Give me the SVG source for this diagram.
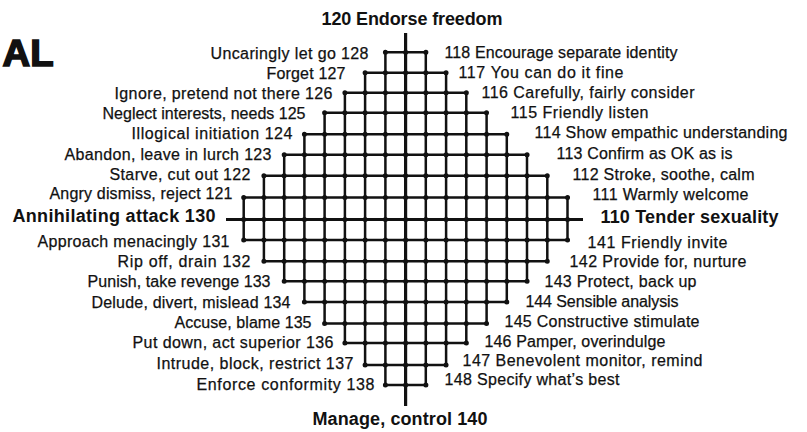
<svg xmlns="http://www.w3.org/2000/svg" width="807" height="432" viewBox="0 0 807 432">
<style>
text{font-family:"Liberation Sans",Arial,sans-serif;fill:#111}
.l{font-size:16px;stroke:#111;stroke-width:0.25}
.b{font-size:18px;font-weight:bold}
.t{font-size:37px;font-weight:bold;stroke:#111;stroke-width:1.6}
.g{stroke:#111;stroke-width:2.5;fill:none}
.a{stroke:#111;stroke-width:3.2;fill:none}
.d{stroke:#111;stroke-width:5;stroke-linecap:round;stroke-dasharray:0 20.24;fill:none}
</style>
<rect width="807" height="432" fill="#fff"/>
<g id="title"><text class="t" x="2.5" y="65.9" textLength="51" lengthAdjust="spacingAndGlyphs">AL</text></g>
<g id="connectors">
<path class="g" d="M385.4 52.2H425.8"/>
<path class="g" d="M365.1 72.8H446.1"/>
<path class="g" d="M344.9 92.8H466.3"/>
<path class="g" d="M324.6 112.8H486.6"/>
<path class="g" d="M304.4 134.2H506.8"/>
<path class="g" d="M284.2 154.8H527"/>
<path class="g" d="M263.9 175.8H547.3"/>
<path class="g" d="M243.7 197.5H567.5"/>
<path class="g" d="M243.7 240H567.5"/>
<path class="g" d="M263.9 261.3H547.3"/>
<path class="g" d="M284.2 281.3H527"/>
<path class="g" d="M304.4 302H506.8"/>
<path class="g" d="M324.6 323.5H486.6"/>
<path class="g" d="M344.9 343H466.3"/>
<path class="g" d="M365.1 365H446.1"/>
<path class="g" d="M385.4 385H425.8"/>
<path class="g" d="M243.7 197.5V240M263.9 175.8V261.3M284.2 154.8V281.3M304.4 134.2V302M324.6 112.8V323.5M344.9 92.8V343M365.1 72.8V365M385.4 52.2V385"/>
<path class="g" d="M425.8 52.2V385M446.1 72.8V365M466.3 92.8V343M486.6 112.8V323.5M506.8 134.2V302M527 154.8V281.3M547.3 175.8V261.3M567.5 197.5V240"/>
<path class="a" d="M226 219.5H583"/>
<path class="a" d="M405.6 33V406"/>
<path class="d" d="M385.4 52.2H426.3"/>
<path class="d" d="M365.1 72.8H446.6"/>
<path class="d" d="M344.9 92.8H466.8"/>
<path class="d" d="M324.6 112.8H487.1"/>
<path class="d" d="M304.4 134.2H507.3"/>
<path class="d" d="M284.2 154.8H527.5"/>
<path class="d" d="M263.9 175.8H547.8"/>
<path class="d" d="M243.7 197.5H568"/>
<path class="d" d="M243.7 219.5H568"/>
<path class="d" d="M243.7 240H568"/>
<path class="d" d="M263.9 261.3H547.8"/>
<path class="d" d="M284.2 281.3H527.5"/>
<path class="d" d="M304.4 302H507.3"/>
<path class="d" d="M324.6 323.5H487.1"/>
<path class="d" d="M344.9 343H466.8"/>
<path class="d" d="M365.1 365H446.6"/>
<path class="d" d="M385.4 385H426.3"/>
</g>
<g id="n120"><text class="b" x="321.5" y="25" textLength="181">120 Endorse freedom</text></g>
<g id="n140"><text class="b" x="312.5" y="425" textLength="175">Manage, control 140</text></g>
<g id="n130"><text class="b" x="12.5" y="222" textLength="203">Annihilating attack 130</text></g>
<g id="n110"><text class="b" x="600.5" y="222.5" textLength="178">110 Tender sexuality</text></g>
<g id="n128"><text class="l" x="210.5" y="59.3" textLength="158">Uncaringly let go 128</text></g>
<g id="n127"><text class="l" x="266.5" y="79.3" textLength="79">Forget 127</text></g>
<g id="n126"><text class="l" x="114.5" y="99.3" textLength="218">Ignore, pretend not there 126</text></g>
<g id="n125"><text class="l" x="102.5" y="119.3" textLength="203">Neglect interests, needs 125</text></g>
<g id="n124"><text class="l" x="131.5" y="139.3" textLength="161">Illogical initiation 124</text></g>
<g id="n123"><text class="l" x="64.5" y="160" textLength="207">Abandon, leave in lurch 123</text></g>
<g id="n122"><text class="l" x="109.5" y="180" textLength="141">Starve, cut out 122</text></g>
<g id="n121"><text class="l" x="49.5" y="199" textLength="183">Angry dismiss, reject 121</text></g>
<g id="n131"><text class="l" x="37.5" y="246.7" textLength="192">Approach menacingly 131</text></g>
<g id="n132"><text class="l" x="117.5" y="267.3" textLength="133">Rip off, drain 132</text></g>
<g id="n133"><text class="l" x="87.5" y="287.3" textLength="183">Punish, take revenge 133</text></g>
<g id="n134"><text class="l" x="91.5" y="308.3" textLength="199">Delude, divert, mislead 134</text></g>
<g id="n135"><text class="l" x="174.5" y="328.3" textLength="137">Accuse, blame 135</text></g>
<g id="n136"><text class="l" x="132.5" y="348.3" textLength="201">Put down, act superior 136</text></g>
<g id="n137"><text class="l" x="156.5" y="369.3" textLength="197">Intrude, block, restrict 137</text></g>
<g id="n138"><text class="l" x="196.5" y="390" textLength="178">Enforce conformity 138</text></g>
<g id="n118"><text class="l" x="444.5" y="58.3" textLength="233">118 Encourage separate identity</text></g>
<g id="n117"><text class="l" x="458.5" y="78.3" textLength="165">117 You can do it fine</text></g>
<g id="n116"><text class="l" x="481.5" y="97.5" textLength="213">116 Carefully, fairly consider</text></g>
<g id="n115"><text class="l" x="510.5" y="118.3" textLength="138">115 Friendly listen</text></g>
<g id="n114"><text class="l" x="534.5" y="138.3" textLength="253">114 Show empathic understanding</text></g>
<g id="n113"><text class="l" x="556.5" y="159.3" textLength="176">113 Confirm as OK as is</text></g>
<g id="n112"><text class="l" x="572.5" y="180" textLength="182">112 Stroke, soothe, calm</text></g>
<g id="n111"><text class="l" x="592.5" y="200" textLength="156">111 Warmly welcome</text></g>
<g id="n141"><text class="l" x="587.5" y="248.3" textLength="140">141 Friendly invite</text></g>
<g id="n142"><text class="l" x="569.5" y="267.3" textLength="177">142 Provide for, nurture</text></g>
<g id="n143"><text class="l" x="544.5" y="287.3" textLength="152">143 Protect, back up</text></g>
<g id="n144"><text class="l" x="525.5" y="307.3" textLength="153">144 Sensible analysis</text></g>
<g id="n145"><text class="l" x="504.5" y="327.3" textLength="195">145 Constructive stimulate</text></g>
<g id="n146"><text class="l" x="484.5" y="346.7" textLength="181">146 Pamper, overindulge</text></g>
<g id="n147"><text class="l" x="462.5" y="366" textLength="240">147 Benevolent monitor, remind</text></g>
<g id="n148"><text class="l" x="444.5" y="385" textLength="175">148 Specify what’s best</text></g>
</svg>
